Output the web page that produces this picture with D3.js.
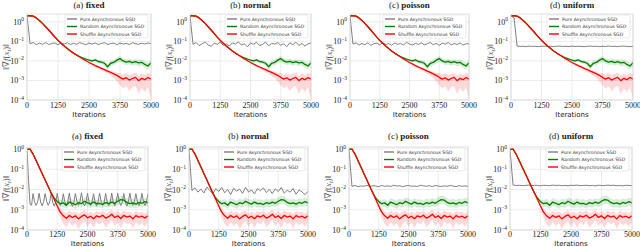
<!DOCTYPE html>
<html>
<head>
<meta charset="utf-8">
<script src="https://cdn.jsdelivr.net/npm/d3@7"></script>
<style>
	body { margin: 0; background: #fff; }
	text { fill: #222; }
</style>
</head>
<body>
<svg id="chart" width="640" height="247"></svg>
<script>
const iterations = 5000
const xTicks = [0, 1250, 2500, 3750, 5000]
const yTickExps = [0, -1, -2, -3, -4]
const panelLetters = ["(a)", "(b)", "(c)", "(d)"]
const panelNames = ["fixed", "normal", "poisson", "uniform"]
const seriesNames = ["Pure Asynchronous SGD", "Random Asynchronous SGD", "Shuffle Asynchronous SGD"]
const seriesColors = ["#7f7f7f", "#008000", "#ff0000"]

// all series are log10 of ||grad f(x_t)||, sampled every 125 iterations (41 points) unless noted
const topShuffle = [0.30, 0.31, 0.29, 0.20, 0.07, -0.08, -0.25, -0.42, -0.60, -0.78, -0.95, -1.10, -1.24, -1.37, -1.49, -1.60, -1.70,
	-1.80, -1.90, -1.99, -2.08, -2.16, -2.24, -2.31, -2.38, -2.45, -2.52, -2.59, -2.66, -2.74, -2.84,
	-2.93, -2.86, -2.98, -2.90, -2.84, -3.01, -2.89, -2.96, -2.85, -2.93]
const topRandom = [0.30, 0.31, 0.29, 0.20, 0.07, -0.08, -0.25, -0.42, -0.60, -0.78, -0.95, -1.10, -1.24, -1.37, -1.49, -1.60, -1.70,
	-1.78, -1.85, -1.91, -1.96, -2.00, -1.95, -2.03, -2.06, -2.12, -2.30, -2.12, -2.08, -1.96, -1.88,
	-2.00, -2.06, -2.02, -2.09, -2.04, -2.10, -2.07, -2.18, -2.26, -2.10]
const topPureFixed = [0.30, -1.12, -1.06, -1.17, -1.09, -1.15, -1.06, -1.16, -1.11, -1.08, -1.17, -1.09, -1.14, -1.07, -1.16, -1.10,
	-1.15, -1.06, -1.12, -1.17, -1.09, -1.14, -1.08, -1.16, -1.11, -1.07, -1.15, -1.12, -1.09, -1.17, -1.08,
	-1.14, -1.10, -1.16, -1.07, -1.12, -1.15, -1.09, -1.14, -1.08, -1.12]
const topPureNormal = [0.30, -1.15, -1.06, -1.22, -1.12, -1.03, -1.18, -1.26, -1.09, -1.15, -1.04, -1.20, -1.13, -1.24, -1.08, -1.14,
	-1.02, -1.19, -1.12, -1.28, -1.08, -1.15, -1.05, -1.21, -1.16, -1.04, -1.23, -1.10, -1.14, -1.06, -1.20,
	-1.12, -1.27, -1.07, -1.17, -1.04, -1.21, -1.11, -1.24, -1.13, -1.08]
const topPurePoisson = [0.30, -1.14, -1.07, -1.19, -1.11, -1.17, -1.07, -1.21, -1.12, -1.09, -1.18, -1.06, -1.16, -1.11, -1.20, -1.08,
	-1.15, -1.11, -1.18, -1.05, -1.13, -1.19, -1.10, -1.16, -1.07, -1.18, -1.12, -1.06, -1.17, -1.10, -1.21,
	-1.09, -1.14, -1.06, -1.18, -1.11, -1.16, -1.08, -1.19, -1.12, -1.13]
const topPureUniform = [0.30, 0.20, -1.24, -1.26, -1.25, -1.27, -1.24, -1.26, -1.25, -1.27, -1.25, -1.24, -1.26, -1.25, -1.27, -1.25,
	-1.24, -1.26, -1.25, -1.27, -1.24, -1.26, -1.25, -1.26, -1.27, -1.25, -1.24, -1.26, -1.25, -1.27, -1.25,
	-1.26, -1.24, -1.26, -1.25, -1.27, -1.25, -1.24, -1.26, -1.27, -1.25]
// shaded spread, from iteration 2500 to 5000
const topShuffleLo = [-2.15, -2.24, -2.33, -2.40, -2.48, -2.57, -2.66, -2.76, -2.88, -3.05, -3.25, -3.40, -3.30, -3.55, -3.35,
	-3.30, -3.70, -3.40, -3.60, -3.35, -3.95]
const topShuffleHi = [-2.02, -2.10, -2.18, -2.25, -2.32, -2.38, -2.44, -2.50, -2.56, -2.60, -2.62, -2.70, -2.62, -2.72, -2.66,
	-2.60, -2.76, -2.65, -2.72, -2.62, -2.68]
const topRandomLo = [-2.02, -2.08, -2.06, -2.12, -2.16, -2.24, -2.45, -2.25, -2.22, -2.12, -2.05, -2.15, -2.22, -2.18, -2.25,
	-2.20, -2.28, -2.24, -2.35, -2.45, -2.28]
const topRandomHi = [-1.90, -1.93, -1.86, -1.94, -1.96, -2.01, -2.16, -1.98, -1.94, -1.82, -1.75, -1.86, -1.92, -1.88, -1.94,
	-1.90, -1.95, -1.92, -2.02, -2.08, -1.94]

const bottomShuffle = [-0.02, 0.00, -0.25, -0.57, -0.89, -1.21, -1.53, -1.85, -2.17, -2.49, -2.81, -3.12, -3.30, -3.42, -3.28,
	-3.38, -3.30, -3.45, -3.33, -3.25, -3.40, -3.32, -3.44, -3.30, -3.36, -3.27, -3.41, -3.34, -3.22, -3.38,
	-3.30, -3.43, -3.28, -3.36, -3.31, -3.45, -3.29, -3.37, -3.32, -3.40, -3.30]
const bottomRandom = [-0.02, 0.00, -0.25, -0.57, -0.89, -1.21, -1.53, -1.85, -2.17, -2.42, -2.60, -2.70, -2.66, -2.78, -2.62,
	-2.68, -2.75, -2.65, -2.70, -2.58, -2.66, -2.72, -2.62, -2.70, -2.68, -2.74, -2.65, -2.70, -2.62, -2.68,
	-2.58, -2.50, -2.52, -2.64, -2.70, -2.66, -2.72, -2.64, -2.68, -2.60, -2.66]
// fixed delays: sampled every 62.5 iterations (81 points)
const bottomPureFixed = [-0.02, -1.50, -2.72, -2.78, -2.20,
	-2.60, -2.79, -2.63, -2.18, -2.62, -2.81, -2.60, -2.20, -2.58, -2.78, -2.62, -2.17,
	-2.63, -2.82, -2.61, -2.19, -2.60, -2.79, -2.64, -2.21, -2.61, -2.80, -2.59, -2.18,
	-2.64, -2.83, -2.62, -2.20, -2.59, -2.78, -2.60, -2.16, -2.62, -2.81, -2.63, -2.19,
	-2.60, -2.79, -2.61, -2.21, -2.63, -2.82, -2.60, -2.18, -2.58, -2.78, -2.62, -2.20,
	-2.61, -2.80, -2.64, -2.17, -2.62, -2.81, -2.59, -2.19, -2.60, -2.79, -2.63, -2.20,
	-2.63, -2.82, -2.61, -2.18, -2.59, -2.78, -2.60, -2.21, -2.62, -2.80, -2.62, -2.19,
	-2.61, -2.79, -2.63, -2.20]
const bottomPureNormal = [-0.02, -2.05, -1.92, -2.13, -1.98, -2.17, -1.88, -2.05, -2.21, -1.96, -2.10, -1.90, -2.16, -2.00, -2.25,
	-1.94, -2.08, -1.98, -2.19, -1.89, -2.12, -2.02, -2.22, -1.95, -2.06, -1.92, -2.15, -2.00, -2.20, -1.97,
	-2.10, -1.90, -2.18, -2.04, -2.13, -1.95, -2.24, -2.02, -2.12, -2.26, -2.08]
const bottomPurePoisson = [-0.02, -1.85, -1.80, -1.86, -1.82, -1.84, -1.79, -1.85, -1.81, -1.83, -1.86, -1.80, -1.84, -1.82, -1.85,
	-1.79, -1.83, -1.81, -1.86, -1.82, -1.80, -1.84, -1.83, -1.85, -1.79, -1.82, -1.84, -1.81, -1.86, -1.80,
	-1.83, -1.85, -1.82, -1.84, -1.80, -1.83, -1.86, -1.81, -1.84, -1.82, -1.85]
const bottomPureUniform = [-0.02, -1.78, -1.80, -1.79, -1.81, -1.80, -1.78, -1.81, -1.79, -1.80, -1.82, -1.79, -1.80, -1.81, -1.78,
	-1.80, -1.79, -1.81, -1.80, -1.82, -1.79, -1.80, -1.78, -1.81, -1.80, -1.79, -1.81, -1.80, -1.82, -1.79,
	-1.80, -1.81, -1.78, -1.80, -1.79, -1.81, -1.80, -1.82, -1.79, -1.80, -1.81]
// shaded spread, from iteration 1250 to 5000
const bottomShuffleLo = [-2.95, -3.40, -3.70, -3.85, -3.60, -3.80, -3.65, -3.95, -3.70, -3.55, -3.85, -3.62, -3.90, -3.60, -3.75,
	-3.55, -3.88, -3.70, -3.52, -3.80, -3.62, -3.92, -3.58, -3.72, -3.64, -3.95, -3.60, -3.78, -3.66, -3.85, -3.60]
const bottomShuffleHi = [-2.70, -2.95, -3.10, -3.18, -3.05, -3.15, -3.08, -3.20, -3.10, -3.02, -3.18, -3.08, -3.20, -3.06, -3.14,
	-3.04, -3.18, -3.10, -3.00, -3.16, -3.06, -3.20, -3.05, -3.12, -3.08, -3.22, -3.05, -3.14, -3.09, -3.18, -3.06]
const bottomRandomLo = [-2.70, -2.88, -2.86, -2.96, -2.82, -2.88, -2.95, -2.86, -2.90, -2.78, -2.86, -2.92, -2.82, -2.90, -2.88,
	-2.94, -2.85, -2.90, -2.82, -2.88, -2.78, -2.70, -2.72, -2.84, -2.90, -2.86, -2.92, -2.84, -2.88, -2.80, -2.86]
const bottomRandomHi = [-2.50, -2.52, -2.46, -2.58, -2.42, -2.48, -2.55, -2.45, -2.50, -2.38, -2.46, -2.52, -2.42, -2.50, -2.48,
	-2.54, -2.45, -2.50, -2.42, -2.48, -2.38, -2.30, -2.32, -2.44, -2.50, -2.46, -2.52, -2.44, -2.48, -2.40, -2.46]

const rows = [
	{
		top: 14, bottom: 100, yMaxExp: 0.4, titleY: 8, tickY: 108, labelY: 116.5,
		cols: [[27, 151], [190, 311], [350, 469], [511, 633]],
		pure: [topPureFixed, topPureNormal, topPurePoisson, topPureUniform],
		random: topRandom, shuffle: topShuffle,
		bandFrom: 2500,
		randomBand: [topRandomLo, topRandomHi], shuffleBand: [topShuffleLo, topShuffleHi]
	},
	{
		top: 147, bottom: 230, yMaxExp: 0.1, titleY: 139, tickY: 237, labelY: 246,
		cols: [[27, 148], [189, 308], [349, 468], [510, 632]],
		pure: [bottomPureFixed, bottomPureNormal, bottomPurePoisson, bottomPureUniform],
		random: bottomRandom, shuffle: bottomShuffle,
		bandFrom: 1250,
		randomBand: [bottomRandomLo, bottomRandomHi], shuffleBand: [bottomShuffleLo, bottomShuffleHi]
	}
]

const svg = d3.select("#chart")
const serif = "'Liberation Serif', 'DejaVu Serif', serif"
const sans = "'DejaVu Sans', sans-serif"

// turn a log10 series into [iteration, value] points
const toPoints = (arr, from = 0) => {
	const step = (iterations - from) / (arr.length - 1)
	return arr.map((v, i) => [from + i * step, 10 ** v])
}

let clipId = 0
function drawPanel(row, c) {
	const [left, right] = row.cols[c]
	const x = d3.scaleLinear().domain([0, iterations]).range([left, right])
	const y = d3.scaleLog().domain([1e-4, 10 ** row.yMaxExp]).range([row.bottom, row.top])
	const g = svg.append("g")

	// grid
	g.selectAll(".vgrid").data(xTicks).enter().append("line")
		.attr("x1", d => x(d)).attr("x2", d => x(d))
		.attr("y1", row.top).attr("y2", row.bottom)
		.attr("stroke", "#e3e3e3").attr("stroke-width", 0.7)
	g.selectAll(".hgrid").data(yTickExps).enter().append("line")
		.attr("x1", left).attr("x2", right)
		.attr("y1", d => y(10 ** d)).attr("y2", d => y(10 ** d))
		.attr("stroke", "#e3e3e3").attr("stroke-width", 0.7)

	const id = "clip" + clipId++
	g.append("clipPath").attr("id", id).append("rect")
		.attr("x", left).attr("y", row.top).attr("width", right - left).attr("height", row.bottom - row.top)
	const plot = g.append("g").attr("clip-path", `url(#${id})`)

	const area = d3.area().x(d => x(d[0])).y0(d => y(d[1])).y1(d => y(d[2]))
	const bandData = ([lo, hi]) => {
		const l = toPoints(lo, row.bandFrom)
		const h = toPoints(hi, row.bandFrom)
		return l.map((p, i) => [p[0], p[1], h[i][1]])
	}
	plot.append("path").attr("d", area(bandData(row.randomBand)))
		.attr("fill", seriesColors[1]).attr("fill-opacity", 0.15)
	plot.append("path").attr("d", area(bandData(row.shuffleBand)))
		.attr("fill", seriesColors[2]).attr("fill-opacity", 0.15)

	const line = d3.line().x(d => x(d[0])).y(d => y(d[1]))
	const series = [row.pure[c], row.random, row.shuffle]
	series.forEach((s, i) => {
		plot.append("path").attr("d", line(toPoints(s)))
			.attr("fill", "none").attr("stroke", seriesColors[i])
			.attr("stroke-width", i === 0 ? 1 : 1.3).attr("stroke-linejoin", "round")
	})

	// frame
	g.append("rect").attr("x", left).attr("y", row.top)
		.attr("width", right - left).attr("height", row.bottom - row.top)
		.attr("fill", "none").attr("stroke", "#d4d4d4").attr("stroke-width", 0.7)

	// x tick labels
	g.selectAll(".xt").data(xTicks).enter().append("text")
		.attr("x", d => x(d)).attr("y", row.tickY)
		.attr("text-anchor", "middle").attr("font-family", serif).attr("font-size", 8)
		.text(d => d)

	// y tick labels, 10^k
	const yt = g.selectAll(".yt").data(yTickExps).enter().append("text")
		.attr("x", left - 3).attr("y", d => y(10 ** d) + 3)
		.attr("text-anchor", "end").attr("font-family", serif).attr("font-size", 8)
	yt.append("tspan").text("10")
	yt.append("tspan").attr("dy", -3.5).attr("font-size", 5.5).text(d => (d < 0 ? "\u2212" + -d : d))

	// axis labels
	g.append("text").attr("x", (left + right) / 2).attr("y", row.labelY)
		.attr("text-anchor", "middle").attr("font-family", sans).attr("font-size", 7)
		.text("Iterations")
	const yl = g.append("text")
		.attr("transform", `translate(${left - 18},${(row.top + row.bottom) / 2}) rotate(-90)`)
		.attr("text-anchor", "middle").attr("font-family", serif).attr("font-size", 9)
		.style("fill", "#555")
	yl.append("tspan").text("\u2016\u2207")
	yl.append("tspan").attr("font-style", "italic").text("f")
	yl.append("tspan").text("(")
	yl.append("tspan").attr("font-style", "italic").text("x")
	yl.append("tspan").attr("font-style", "italic").attr("font-size", 6.5).attr("dy", 2).text("t")
	yl.append("tspan").attr("dy", -2).text(")\u2016")

	// title
	const t = g.append("text").attr("x", (left + right) / 2).attr("y", row.titleY)
		.attr("text-anchor", "middle").attr("font-family", serif).attr("font-size", 9)
	t.append("tspan").text(panelLetters[c] + " ")
	t.append("tspan").attr("font-weight", "bold").text(panelNames[c])

	// legend
	const lg = g.append("g").attr("transform", `translate(${right - 86},${row.top + 1})`)
	lg.append("rect").attr("width", 83).attr("height", 23).attr("rx", 1.5)
		.attr("fill", "#fff").attr("fill-opacity", 0.85)
		.attr("stroke", "#dcdcdc").attr("stroke-width", 0.6)
	seriesNames.forEach((name, i) => {
		const ly = 4 + i * 7.5
		lg.append("line").attr("x1", 2).attr("x2", 12).attr("y1", ly).attr("y2", ly)
			.attr("stroke", seriesColors[i]).attr("stroke-width", 1.4)
		lg.append("text").attr("x", 15).attr("y", ly + 1.7)
			.attr("font-family", sans).attr("font-size", 4.6).style("fill", "#333")
			.text(name)
	})
}

rows.forEach(row => {
	row.cols.forEach((col, c) => drawPanel(row, c))
})
</script>
</body>
</html>
